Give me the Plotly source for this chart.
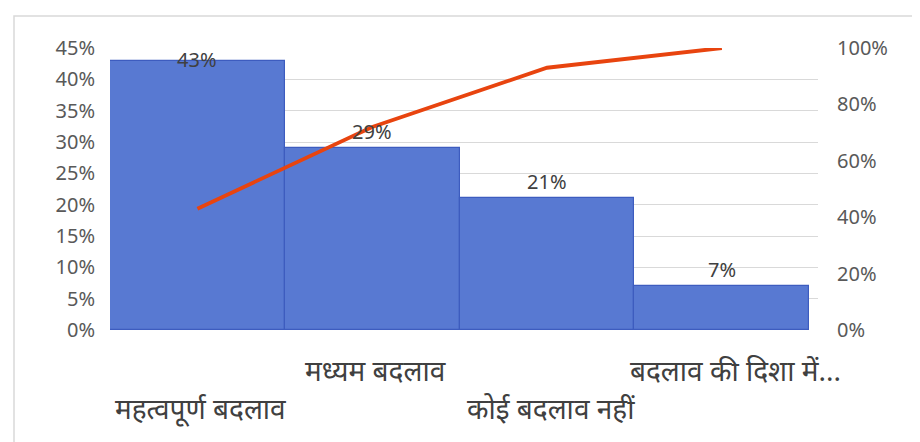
import plotly.graph_objects as go

categories = ["महत्वपूर्ण बदलाव", "मध्यम बदलाव", "कोई बदलाव नहीं", "बदलाव की दिशा में..."]
shares = [0.43, 0.29, 0.21, 0.07]
share_labels = ["43%", "29%", "21%", "7%"]
cumulative = [0.43, 0.72, 0.93, 1.00]
left_ticks = [0, 0.05, 0.10, 0.15, 0.20, 0.25, 0.30, 0.35, 0.40, 0.45]
right_ticks = [0, 0.2, 0.4, 0.6, 0.8, 1.0]

xs = list(range(len(categories)))
FONT = "Noto Sans, Noto Sans Devanagari, Liberation Sans, sans-serif"

fig = go.Figure()
fig.add_trace(go.Bar(
    x=xs, y=shares, width=1.0,
    marker=dict(color="#5879d2", line=dict(color="#3d5cbf", width=1.2)),
    showlegend=False, hoverinfo="skip",
))
fig.add_trace(go.Scatter(
    x=xs, y=cumulative, yaxis="y2", mode="lines",
    line=dict(color="#e8440f", width=3.8),
    showlegend=False, hoverinfo="skip",
))

annotations = []
for i, (v, t) in enumerate(zip(shares, share_labels)):
    shift = 1 if v > 0.40 else 17
    annotations.append(dict(x=i, y=v, xref="x", yref="y", text=t, showarrow=False,
                            yshift=shift, font=dict(size=20, color="#404040", family=FONT)))
for i, c in enumerate(categories):
    ypos = -0.29 if i % 2 == 0 else -0.155
    ypos -= 0.06
    xpos = i + (0.08 if i == 3 else 0.02)
    annotations.append(dict(x=xpos, y=ypos, xref="x", yref="paper", text=c, showarrow=False,
                            font=dict(size=28, color="#404040", family=FONT)))

fig.update_layout(
    width=920, height=442,
    margin=dict(l=102, r=110, t=40, b=120),
    paper_bgcolor="white", plot_bgcolor="white",
    bargap=0,
    font=dict(family=FONT, size=20, color="#595959"),
    xaxis=dict(range=[-0.5, 3.55], showticklabels=False, showgrid=False, zeroline=False,
               showline=False, fixedrange=True),
    yaxis=dict(range=[0, 0.45], tickvals=left_ticks, tickformat=".0%", showgrid=True,
               gridcolor="#d9d9d9", gridwidth=1, zeroline=False, showline=False,
               ticks="", ticklabelstandoff=14),
    yaxis2=dict(range=[0, 1.0], tickvals=right_ticks, tickformat=".0%", overlaying="y",
                side="right", showgrid=False, zeroline=False, showline=False, ticks="",
                ticklabelstandoff=18),
    annotations=annotations,
    shapes=[dict(type="rect", xref="paper", yref="paper", x0=-0.1356, x1=1.3, y0=-0.6, y1=1.1135,
                 line=dict(color="#d9d9d9", width=1.5), layer="below")],
)

fig.write_html("out.html")
